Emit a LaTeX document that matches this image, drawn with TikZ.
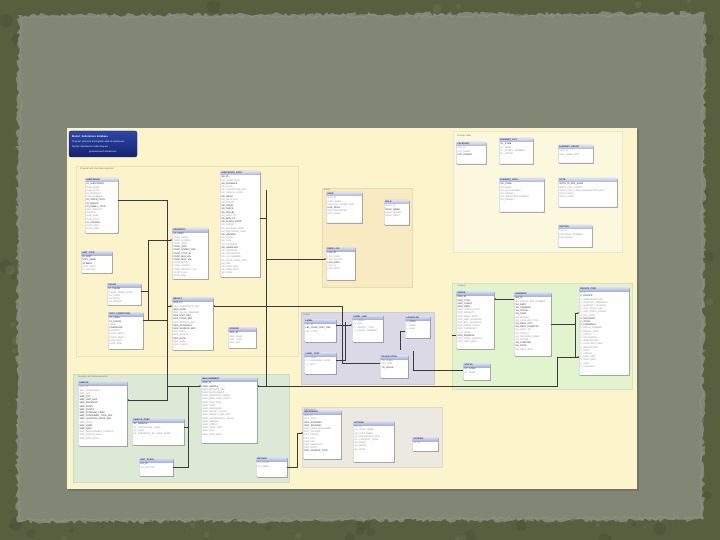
\documentclass[tikz,border=0pt]{standalone}
\usepackage{fontspec}
\setmainfont{Liberation Sans}
\usetikzlibrary{shadows,decorations.pathmorphing,arrows.meta}
\definecolor{outerbg}{HTML}{56603F}
\definecolor{outerdk}{HTML}{3C4430}
\definecolor{outerlt}{HTML}{7A8068}
\definecolor{paper}{HTML}{818675}
\definecolor{paperrim}{HTML}{9A9E90}
\definecolor{cream}{HTML}{FCF5CC}
\definecolor{regleft}{HTML}{FBF3C9}
\definecolor{regorange}{HTML}{F8EBC2}
\definecolor{regtop}{HTML}{FCF8DD}
\definecolor{reggreen}{HTML}{E2F4CD}
\definecolor{regpurple}{HTML}{DAD9E5}
\definecolor{regbgreen}{HTML}{DCEAD5}
\definecolor{reggray}{HTML}{ECE9E1}
\definecolor{tbdr}{HTML}{A4A8B6}
\definecolor{hdrtop}{HTML}{D8DEF3}
\definecolor{hdrbot}{HTML}{AAB4DC}
\definecolor{hdrtxt}{HTML}{27306A}
\definecolor{rowk}{HTML}{1E1E1E}
\definecolor{rowg}{HTML}{8C8C8C}
\definecolor{linec}{HTML}{3A3A3A}
\definecolor{blueA}{HTML}{2C47AA}
\definecolor{blueB}{HTML}{15236E}
\newcommand\RK[1]{\textcolor{rowk}{#1}\\}
\newcommand\RG[1]{\textcolor{rowg}{#1}\\}
\tikzset{
  tbox/.style={draw=tbdr, fill=white, line width=0.35pt, rounded corners=0.8pt, inner sep=0pt,
    drop shadow={shadow xshift=0.8pt, shadow yshift=-0.8pt, opacity=0.35, fill=black}},
  hdrtext/.style={anchor=west, inner sep=0pt, font=\fontsize{2.2}{2.4}\selectfont\bfseries, text=hdrtxt},
  rowtext/.style={anchor=north west, inner sep=0pt, align=left, font=\fontsize{2.3}{3.2}\selectfont},
  region/.style={draw=#1!93!black, line width=0.25pt, fill=#1},
  reglabel/.style={anchor=north west, inner sep=0pt, font=\fontsize{2.3}{2.6}\selectfont, text=black!55},
  conn/.style={draw=linec, line width=0.4pt},
  tipend/.style={-{Stealth[length=1.6pt,width=1.6pt]}}
}
\newcommand\tb[7]{%
  \node[tbox, minimum width={(#4-#2)*1pt}, minimum height={(#5-#3)*1pt}, anchor=north west] (#1) at (#2,#3) {};
  \shade[top color=hdrtop, bottom color=hdrbot] ([xshift=0.3pt,yshift=-0.3pt]#1.north west) rectangle ([xshift=-0.3pt,yshift=-4pt]#1.north east);
  \node[hdrtext] at ([xshift=1.2pt,yshift=-2.1pt]#1.north west) {#6};
  \node[rowtext] at ([xshift=1.5pt,yshift=-5pt]#1.north west) {#7};
}
\begin{document}
\begin{tikzpicture}[x=1pt,y=-1pt]
\useasboundingbox (0,0) rectangle (720,540);
% outer textured background
\fill[outerbg] (0,0) rectangle (720,540);
\pgfmathsetseed{12}
\foreach \i in {1,...,260}{
  \pgfmathsetmacro\rr{rnd*6+1}
  \pgfmathsetmacro\px{rnd*720}
  \pgfmathsetmacro\py{rnd*540}
  \fill[outerdk, opacity=0.25] (\px,\py) circle[radius=\rr pt];
}
\foreach \i in {1,...,160}{
  \pgfmathsetmacro\rr{rnd*4+1}
  \pgfmathsetmacro\px{rnd*720}
  \pgfmathsetmacro\py{rnd*540}
  \fill[outerlt, opacity=0.25] (\px,\py) circle[radius=\rr pt];
}
% paper with torn edge
\pgfmathsetseed{5}
\path[fill=paper, decorate, decoration={random steps, segment length=3pt, amplitude=2.2pt}]
  (18,15) -- (705,13) -- (703,520) -- (17,522) -- cycle;
\pgfmathsetseed{9}
\path[draw=paperrim, line width=1.2pt, opacity=0.4, decorate, decoration={random steps, segment length=3pt, amplitude=1.8pt}]
  (20,17) -- (703,15) -- (701,518) -- (19,520) -- cycle;
% cream diagram area
\fill[black, opacity=0.12] (68,129.5) rectangle (638.5,491);
\fill[cream] (67,128) rectangle (637,489);
% regions
\fill[region=regleft] (76,166) rectangle (298,356);
\node[reglabel] (lbl1) at (80,168) {Physical and chemical properties};
\fill[region=regorange] (322,188) rectangle (412,287);
\node[reglabel] (lbl2) at (324,189) {Users};
\fill[region=regtop] (453,131) rectangle (622,252);
\node[reglabel] (lbl3) at (457,135) {Periodic table};
\fill[region=reggreen] (452,283) rectangle (632,389);
\node[reglabel] (lbl4) at (457,285) {Logistics};
\fill[region=regpurple] (301,312) rectangle (434,384);
\node[reglabel] (lbl5) at (303,313.5) {Labels};
\fill[region=regbgreen] (73,374) rectangle (289,482);
\node[reglabel] (lbl6) at (78,376) {Samples and measurements};
\fill[region=reggray] (302,407) rectangle (442,467);
\node[reglabel] (lbl7) at (304,408.5) {References};
% title box
\shade[top color=blueA, bottom color=blueB, rounded corners=2pt, draw=blueB] (69,131) rectangle (137,157);
\node[anchor=west, inner sep=0pt, text=white, font=\fontsize{2.6}{3}\selectfont\bfseries] (tt1) at (72,136.5) {Model: Substances database};
\node[anchor=west, inner sep=0pt, text=white, font=\fontsize{2.3}{3}\selectfont] (tt2) at (72,142) {Physical, chemical and logistics data of substances};
\node[anchor=west, inner sep=0pt, text=white, font=\fontsize{2.3}{3}\selectfont] (tt3) at (72,146.5) {MySQL Workbench model diagram};
\node[anchor=west, inner sep=0pt, text=white, font=\fontsize{2.3}{3}\selectfont] (tt4) at (89,152) {generated with Workbench};
% ---------- tables ----------
\tb{t1}{85}{178}{118}{233}{SUBSTANCE}{\RK{ID\_SUBSTANCE}\RG{SUB\_NAME}\RG{SUB\_ALIAS}\RG{ID\_FORMULA}\RG{CAS\_NUMBER}\RK{ID\_STATE\_PHYS}\RK{ID\_ORIGIN}\RK{ID\_FAMILY\_TYPE}\RG{MOL\_WEIGHT}\RG{DENSITY}\RG{SUB\_DESC}\RG{SUB\_NOTE}\RK{ID\_SOURCE}\RG{DATE\_ADD}\RG{DATE\_MOD}}
\tb{t2}{81}{251}{112}{273}{UNIT\_TYPE}{\RK{ID\_UNIT}\RK{UNIT\_NAME}\RK{SYMBOL}\RG{UNIT\_DESC}\RG{SI\_FACTOR}}
\tb{t3}{107}{283}{141}{305}{PHASE}{\RK{ID\_PHASE}\RG{PHASE\_NAME\_LONG}\RG{PH\_CODE}\RG{PH\_NOTE}\RG{PH\_ORDER}}
\tb{t4}{108}{312}{143}{349}{TEST\_CONDITIONS}{\RK{ID\_COND}\RK{ID\_PHASE}\RG{TEMP}\RK{PRESSURE}\RG{HUMIDITY}\RG{COND\_NOTE}\RG{COND\_DESC}\RG{DATE\_ADD}\RG{DATE\_MOD}}
\tb{t5}{172}{228}{208}{279}{PROPERTY}{\RK{ID\_PROP}\RG{PROP\_NAME}\RG{PROP\_SYMBOL}\RG{PROP\_DESC}\RK{PROP\_UNIT}\RK{PROP\_GROUP\_REF}\RK{PROP\_TYPE\_ID}\RK{PROP\_MIN\_VAL}\RK{PROP\_MAX\_VAL}\RG{PROP\_NOTE}\RG{PROP\_ORDER}\RG{PROP\_DEFAULT\_VAL}\RG{PROP\_FLAG}\RG{DATE\_MOD}}
\tb{t6}{172}{297}{213}{350}{RESULT}{\RK{RES\_ID}\RG{RES\_SUBSTANCE\_REF}\RK{RES\_PROP}\RG{RES\_VALUE\_NUMERIC}\RK{RES\_UNIT\_REF}\RK{RES\_COND\_REF}\RG{RES\_METHOD\_REF}\RK{RES\_ACCURACY}\RK{RES\_SOURCE\_REF}\RG{RES\_NOTE}\RG{RES\_STATUS}\RK{RES\_DATE}\RG{RES\_USER}\RG{RES\_CHECK}}
\tb{t7}{220}{171}{260}{277}{SUBSTANCE\_DATA}{\RK{SD\_ID}\RG{SD\_SUBSTANCE}\RK{SD\_FORMULA}\RG{SD\_ALIAS}\RG{SD\_STRUCTURE\_IMG}\RG{SD\_SMILES\_CODE}\RK{SD\_INCHI}\RG{SD\_INCHI\_KEY}\RG{SD\_COLOR}\RK{SD\_ODOR}\RK{SD\_TASTE}\RK{SD\_SOLUB}\RG{SD\_MELT\_PT}\RK{SD\_BOIL\_PT}\RK{SD\_FLASH\_POINT}\RG{SD\_VAPOR}\RG{SD\_AUTOIGN\_TEMP}\RG{SD\_EXPLOSIVE\_LIMIT}\RK{SD\_HAZARD}\RG{SD\_TOXIC}\RG{SD\_LD50}\RG{SD\_STORAGE}\RK{SD\_HANDLING}\RG{SD\_DISPOSAL}\RG{SD\_TRANSPORT}\RG{SD\_UN\_NUMBER}\RG{SD\_NOTE\_LONG\_TEXT}\RG{SD\_REF}\RG{SD\_DATE\_ADD}\RG{SD\_DATE\_MOD}\RG{SD\_USER}}
\tb{t8}{228}{327}{256}{348}{SOURCE}{\RK{SRC\_ID}\RG{SRC\_NAME}\RG{SRC\_TYPE}\RG{SRC\_URL}}
\tb{oA}{326}{192}{362}{223}{USER}{\RG{USR\_ID}\RG{USR\_LOGIN}\RG{USR\_FULL\_NAME\_TEXT}\RK{USR\_ROLE}\RG{USR\_PASSWORD}\RG{USR\_EMAIL}}
\tb{oB}{384}{200}{409}{225}{ROLE}{\RG{ROLE\_ID}\RK{ROLE\_NAME}\RG{ROLE\_RIGHTS}\RG{ROLE\_DESC}}
\tb{oC}{326}{247}{355}{280}{USER\_LOG}{\RK{LOG\_ID}\RG{LOG\_USER}\RG{LOG\_ACTION}\RK{LOG\_DATE}\RG{LOG\_IP}\RG{LOG\_NOTE}}
\tb{r1}{456}{142}{486}{164}{CATEGORY}{\RG{CAT\_ID}\RG{CAT\_NAME}\RK{CAT\_ORDER}}
\tb{r2}{499}{138}{533}{164}{ELEMENT\_LIST}{\RK{EL\_SYMB}\RG{EL\_NAME}\RG{EL\_ATOMIC\_NUMBER}\RG{EL\_GROUP}}
\tb{r3}{558}{145}{593}{163}{ELEMENT\_GROUP}{\RG{GRP\_ID}\RG{GRP\_NAME\_TEXT}}
\tb{r4}{499}{178}{544}{212}{ELEMENT\_DATA}{\RK{ED\_SYMB}\RG{ED\_MASS}\RG{ED\_ELECTRONEG}\RG{ED\_RADIUS}\RG{ED\_IONIZATION\_ENERGY}\RG{ED\_DENSITY}}
\tb{r5}{558}{178}{617}{207}{NOTE}{\RK{NOTE\_ID\_REF\_ELEM}\RG{NOTE\_TEXT\_SHORT}\RG{NOTE\_TEXT\_LONG\_DESCRIPTION\_FULL}\RG{NOTE\_DATE}\RG{NOTE\_USER}}
\tb{r6}{558}{225}{592}{247}{ISOTOPE}{\RG{ISO\_ID}\RG{ISO\_MASS\_NUMBER}\RG{ISO\_ABUND}}
\tb{g1}{456}{291}{494}{349}{ORDER}{\RK{ORD\_ID}\RK{ORD\_TYPE}\RK{ORD\_CLIENT}\RK{ORD\_DATE}\RG{ORD\_STATUS\_TEXT}\RG{ORD\_PRIORITY}\RG{ORD\_DELIV\_DATE}\RG{ORD\_SHIP\_ADDRESS}\RG{ORD\_BILL\_ADDRESS}\RG{ORD\_TOTAL\_PRICE}\RG{ORD\_CURRENCY}\RG{ORD\_NOTE}\RK{ORD\_PAYMENT}\RG{ORD\_USER\_CREATED}\RG{ORD\_DATE\_MOD}}
\tb{g2}{514}{292}{551}{356}{SHIPMENT}{\RK{SH\_ID}\RG{SH\_ORDER\_REF\_NUMBER}\RK{SH\_DATE}\RK{SH\_CARRIER}\RK{SH\_TRACK}\RK{SH\_COST}\RG{SH\_WEIGHT}\RG{SH\_PACKAGE\_TYPE}\RK{SH\_DEST\_CITY}\RK{SH\_DEST\_COUNTRY}\RG{SH\_DEST\_ZIP}\RG{SH\_STATUS}\RG{SH\_RECEIVER\_NAME}\RG{SH\_PHONE}\RK{SH\_CONFIRM}\RK{SH\_NOTE}\RG{SH\_DATE\_MOD}}
\tb{g3}{579}{287}{629}{375}{INVOICE\_ITEM}{\RG{II\_ID}\RK{II\_INVOICE}\RG{II\_SUBSTANCE\_REF}\RG{II\_QUANTITY\_ORDERED}\RG{II\_QUANTITY\_SHIPPED}\RG{II\_UNIT\_PRICE\_NET}\RG{II\_UNIT\_PRICE\_GROSS}\RG{II\_TAX\_RATE}\RK{II\_DISCOUNT}\RK{II\_TOTAL}\RK{II\_CURRENCY}\RG{II\_BATCH\_NUMBER}\RG{II\_EXPIRY\_DATE}\RG{II\_PURITY}\RG{II\_PACKAGING}\RG{II\_WAREHOUSE}\RG{II\_LOCATION\_CODE}\RG{II\_CERTIFICATE}\RG{II\_NOTE}\RG{II\_STATUS}\RG{II\_DATE\_ADD}\RG{II\_DATE\_MOD}\RG{II\_USER}\RG{II\_CHECKED}}
\tb{g4}{463}{363}{490}{380}{STATUS}{\RK{ST\_CODE}\RG{ST\_NAME}}
\tb{p1}{304}{319}{336}{342}{LABEL}{\RG{LBL\_ID}\RK{LBL\_CODE\_TEXT\_REF}\RG{LBL\_TYPE}}
\tb{p2}{352}{315}{383}{342}{LABEL\_LINK}{\RG{LL\_LABEL}\RG{LL\_OBJ}\RG{LL\_OBJECT\_TYPE}\RG{LL\_ORDER\_NUMBER}}
\tb{p3}{405}{316}{430}{338}{LANGUAGE}{\RK{L\_CODE}\RG{L\_NAME}\RG{L\_FLAG}}
\tb{p4}{304}{352}{336}{374}{LABEL\_TEXT}{\RG{LT\_LABEL}\RG{LT\_LANGUAGE\_CODE}\RG{LT\_TEXT}}
\tb{p5}{380}{355}{408}{378}{TRANSLATION}{\RG{TR\_LABEL}\RG{TR\_LANG}\RK{TR\_VALUE}}
\tb{L1}{78}{381}{127}{446}{SAMPLE}{\RG{SMP\_ID}\RG{SMP\_SUBSTANCE}\RG{SMP\_LOT}\RK{SMP\_QTY}\RK{SMP\_UNIT\_REF}\RK{SMP\_RECEIVED}\RK{SMP\_STATE}\RK{SMP\_PURITY}\RK{SMP\_STORAGE\_TEMP}\RK{SMP\_CONTAINER\_TYPE\_REF}\RK{SMP\_LOCATION\_CODE\_REF}\RG{SMP\_NOTE}\RK{SMP\_USER}\RK{SMP\_DATE}\RG{SMP\_RESPONSIBLE\_PERSON}\RG{SMP\_STATUS\_FLAG}\RG{SMP\_DATE\_MOD}}
\tb{L2}{132}{418}{184}{445}{SAMPLE\_PREP}{\RK{SP\_SAMPLE}\RG{SP\_PROCEDURE\_CODE}\RG{SP\_DATE}\RG{SP\_PREPARED\_BY\_USER\_NAME}}
\tb{L3}{201}{377}{257}{443}{MEASUREMENT}{\RK{MSR\_ID}\RK{MSR\_SAMPLE}\RG{MSR\_METHOD\_REF}\RG{MSR\_INSTRUMENT}\RG{MSR\_OPERATOR\_NAME}\RG{MSR\_DATE\_TIME\_START}\RG{MSR\_DATE\_END}\RG{MSR\_TEMP}\RG{MSR\_PRESSURE}\RG{MSR\_RESULT\_VALUE}\RG{MSR\_RESULT\_UNIT\_REF}\RG{MSR\_UNCERTAINTY\_VALUE}\RG{MSR\_REPEAT}\RG{MSR\_STATUS}\RG{MSR\_NOTE\_TEXT}\RG{MSR\_FILE}\RG{MSR\_DATE\_MOD}}
\tb{L4}{139}{458}{173}{476}{UNIT\_SCALE}{\RK{US\_ID}\RG{US\_FACTOR}}
\tb{L5}{256}{457}{287}{477}{METHOD}{\RG{MT\_CODE}\RG{MT\_NAME}}
\tb{W1}{303}{410}{341}{459}{REFERENCE}{\RG{REF\_ID}\RG{REF\_TITLE}\RK{REF\_AUTHORS}\RK{REF\_JOURNAL}\RG{REF\_YEAR\_PUBLISHED}\RG{REF\_VOLUME}\RG{REF\_PAGES}\RG{REF\_DOI}\RG{REF\_URL}\RG{REF\_ABSTRACT}\RG{REF\_NOTE}\RK{REF\_SOURCE\_TYPE}}
\tb{W2}{353}{421}{394}{462}{AUTHOR}{\RG{AU\_ID}\RG{AU\_FIRST\_NAME}\RG{AU\_LAST\_NAME}\RG{AU\_AFFILIATION\_TEXT}\RG{AU\_COUNTRY\_CODE}\RG{AU\_EMAIL}\RG{AU\_ORCID}\RG{AU\_NOTE}}
\tb{W3}{412}{437}{438}{451}{JOURNAL}{\RG{JR\_ID}}
% ---------- connectors ----------
\coordinate (v266top) at (266,190);
\coordinate (j148) at (148,291);
\coordinate (j167) at (167,320);
\coordinate (j345) at (345,322);
\coordinate (j413) at (413,351);
\coordinate (j400) at (400,350);
\draw[conn,tipend] (t1.east|-0,200) -- (167,200) -- (167,400) -- (L1.east|-0,400);
\draw[conn] (t4.east|-0,320) -- (j167);
\draw[conn] (t3.east|-0,291) -- (j148);
\draw[conn,tipend] (148,320) -- (148,240) -- (t5.west|-0,240);
\draw[conn,tipend] (167,306) -- (t6.west|-0,306);
\draw[conn,tipend] (p5.west|-0,363) -- (342,363) -- (342,306) -- (t6.east|-0,306);
\draw[conn,tipend] (p1.east|-0,325) -- (p2.west|-0,325);
\draw[conn] (p4.east|-0,360) -- (345,360) -- (j345);
\draw[conn] (t7.east|-0,218) -- (266,218);
\draw[conn] (v266top) -- (266,386);
\draw[conn,tipend] (266,259) -- (oC.west|-0,259);
\draw[conn,tipend] (g3.west|-0,357) -- (557,357) -- (557,386) -- (L3.east|-0,386);
\draw[conn,tipend] (167,386) -- (L3.west|-0,386);
\draw[conn] (g2.east|-0,324) -- (575,324);
\draw[conn,tipend] (575,324) |- (g3.west|-0,313);
\draw[conn,tipend] (575,324) |- (g3.west|-0,357);
\draw[conn,tipend] (g2.west|-0,299) -- (g1.east|-0,299);
\draw[conn] (g4.west|-0,370) -- (413,370) -- (j413);
\draw[conn] (p3.west|-0,331) -- (400,331) -- (j400);
\draw[conn] (L2.east|-0,427) -- (188,427);
\draw[conn] (L4.east|-0,467) -- (188,467) -- (188,386);
\draw[conn,tipend] (L5.east|-0,467) -- (297,467) -- (297,433) -- (W1.west|-0,433);
\draw[conn] (452,335) -- (g1.west|-0,335);
\end{tikzpicture}
\end{document}
